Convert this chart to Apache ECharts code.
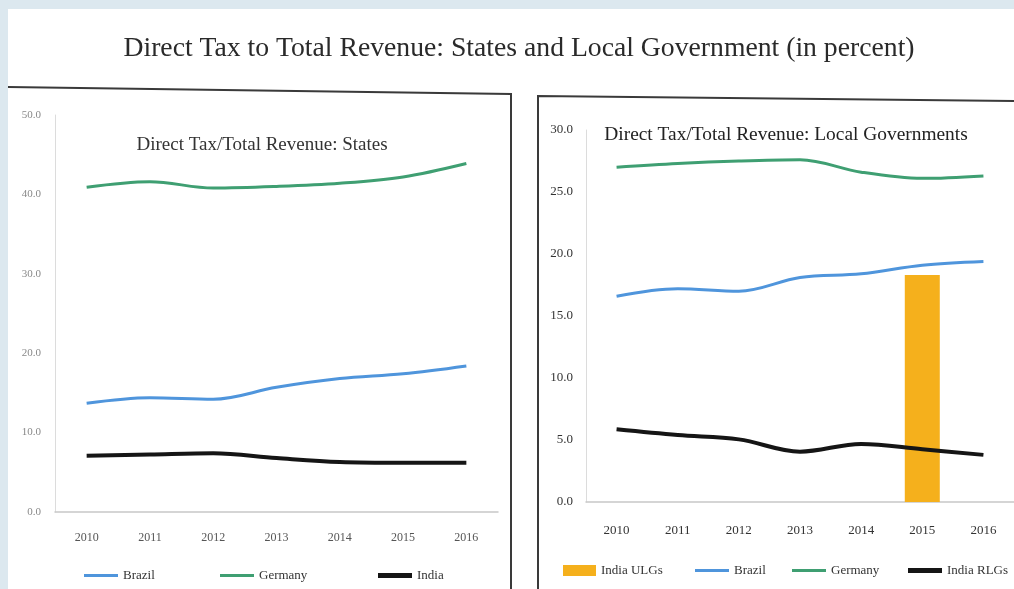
<!DOCTYPE html>
<html>
<head>
<meta charset="utf-8">
<script src="https://cdn.jsdelivr.net/npm/echarts@6/dist/echarts.min.js"></script>
<style>
  html, body { margin: 0; padding: 0; background: #ffffff; }
  #chart { width: 1014px; height: 589px; }
</style>
</head>
<body>
<div id="chart"></div>
<script>
// Years shown on both panels
const years = ['2010', '2011', '2012', '2013', '2014', '2015', '2016'];

// States: direct tax as a share of total revenue (%)
const statesBrazil  = [13.7, 14.4, 14.2, 15.7, 16.8, 17.4, 18.4];
const statesGermany = [40.9, 41.6, 40.8, 41.0, 41.4, 42.2, 43.9];
const statesIndia   = [7.1, 7.25, 7.4, 6.8, 6.3, 6.2, 6.2];

// Local governments: direct tax as a share of total revenue (%)
const localIndiaULGs = [null, null, null, null, null, 18.3, null];
const localBrazil    = [16.6, 17.2, 17.0, 18.1, 18.4, 19.1, 19.4];
const localGermany   = [27.0, 27.3, 27.5, 27.6, 26.6, 26.1, 26.3];
const localIndiaRLGs = [5.86, 5.4, 5.05, 4.06, 4.68, 4.25, 3.8];

const SERIF = '"Liberation Serif", "DejaVu Serif", serif';
const BLUE = '#4f95dc';
const GREEN = '#3f9f72';
const BLACK = '#151515';
const ORANGE = '#f5b01c';

const chart = echarts.init(document.getElementById('chart'), null, { renderer: 'canvas' });

const axisLabel = { fontFamily: SERIF, fontSize: 12, color: '#555' };
const legendText = { fontFamily: SERIF, fontSize: 13, color: '#333' };

// one legend entry per box so each can sit at its own spot
function legendItem(name, left, top, opts) {
  return Object.assign({
    data: [{ name: name, icon: 'rect' }],
    left: left, top: top, padding: 0, itemWidth: 34, itemHeight: 3, itemGap: 4,
    textStyle: legendText
  }, opts || {});
}

function titleBox(text, center, top, size, color) {
  return {
    text: text, left: center, top: top, padding: 0, textAlign: 'center',
    textStyle: { fontFamily: SERIF, fontSize: size, fontWeight: 'normal', color: color }
  };
}

chart.setOption({
  backgroundColor: '#ffffff',
  animation: false,
  title: [
    titleBox('Direct Tax to Total Revenue: States and Local Government (in percent)', 519, 35, 27.7, '#2a2a2a'),
    titleBox('Direct Tax/Total Revenue: States', 262, 136, 19, '#333'),
    titleBox('Direct Tax/Total Revenue: Local Governments', 786, 125, 19.4, '#222')
  ],
  graphic: [
    { type: 'rect', shape: { x: 0, y: 0, width: 1014, height: 9 }, style: { fill: '#dce8ef' }, silent: true },
    { type: 'rect', shape: { x: 0, y: 0, width: 8, height: 589 }, style: { fill: '#dce8ef' }, silent: true },
    { type: 'polyline', shape: { points: [[8, 87], [511, 94], [511, 589]] }, style: { stroke: '#3a3a3a', lineWidth: 2, fill: null }, silent: true },
    { type: 'polyline', shape: { points: [[538, 589], [538, 96], [1014, 101]] }, style: { stroke: '#3a3a3a', lineWidth: 2, fill: null }, silent: true }
  ],
  legend: [
    legendItem('Brazil', 84, 569),
    legendItem('Germany', 220, 569),
    legendItem('India', 378, 569, { itemHeight: 5 }),
    legendItem('India ULGs', 563, 564, { itemWidth: 33, itemHeight: 11 }),
    legendItem('Brazil ', 695, 564),
    legendItem('Germany ', 792, 564),
    legendItem('India RLGs', 908, 564, { itemHeight: 5 })
  ],
  grid: [
    { left: 55, top: 115, width: 443, height: 397 },
    { left: 586, top: 130, width: 430, height: 372 }
  ],
  xAxis: [
    {
      type: 'category', gridIndex: 0, data: years, boundaryGap: true,
      axisLine: { lineStyle: { color: '#c8c8c8', width: 1.5 } },
      axisTick: { show: false },
      axisLabel: Object.assign({ margin: 20 }, axisLabel)
    },
    {
      type: 'category', gridIndex: 1, data: years, boundaryGap: true,
      axisLine: { lineStyle: { color: '#c8c8c8', width: 1.5 } },
      axisTick: { show: false },
      axisLabel: Object.assign({ margin: 22 }, axisLabel, { fontSize: 13, color: '#333' })
    }
  ],
  yAxis: [
    {
      type: 'value', gridIndex: 0, min: 0, max: 50, interval: 10,
      axisLine: { show: true, lineStyle: { color: '#dcdcdc', width: 1 } },
      axisTick: { show: false }, splitLine: { show: false },
      axisLabel: Object.assign({ margin: 14, formatter: v => v.toFixed(1) }, axisLabel, { fontSize: 11, color: '#888' })
    },
    {
      type: 'value', gridIndex: 1, min: 0, max: 30, interval: 5,
      axisLine: { show: true, lineStyle: { color: '#dcdcdc', width: 1 } },
      axisTick: { show: false }, splitLine: { show: false },
      axisLabel: Object.assign({ margin: 13, formatter: v => v.toFixed(1) }, axisLabel, { fontSize: 13, color: '#333' })
    }
  ],
  series: [
    { name: 'Brazil', type: 'line', xAxisIndex: 0, yAxisIndex: 0, data: statesBrazil, smooth: 0.35, symbol: 'none',
      lineStyle: { color: BLUE, width: 3 }, itemStyle: { color: BLUE } },
    { name: 'Germany', type: 'line', xAxisIndex: 0, yAxisIndex: 0, data: statesGermany, smooth: 0.35, symbol: 'none',
      lineStyle: { color: GREEN, width: 3 }, itemStyle: { color: GREEN } },
    { name: 'India', type: 'line', xAxisIndex: 0, yAxisIndex: 0, data: statesIndia, smooth: 0.35, symbol: 'none',
      lineStyle: { color: BLACK, width: 4 }, itemStyle: { color: BLACK } },

    { name: 'India ULGs', type: 'bar', xAxisIndex: 1, yAxisIndex: 1, data: localIndiaULGs, barWidth: 35,
      itemStyle: { color: ORANGE } },
    { name: 'Brazil ', type: 'line', xAxisIndex: 1, yAxisIndex: 1, data: localBrazil, smooth: 0.35, symbol: 'none',
      lineStyle: { color: BLUE, width: 3 }, itemStyle: { color: BLUE } },
    { name: 'Germany ', type: 'line', xAxisIndex: 1, yAxisIndex: 1, data: localGermany, smooth: 0.35, symbol: 'none',
      lineStyle: { color: GREEN, width: 3 }, itemStyle: { color: GREEN } },
    { name: 'India RLGs', type: 'line', xAxisIndex: 1, yAxisIndex: 1, data: localIndiaRLGs, smooth: 0.35, symbol: 'none',
      lineStyle: { color: BLACK, width: 4 }, itemStyle: { color: BLACK } }
  ]
});
</script>
</body>
</html>
